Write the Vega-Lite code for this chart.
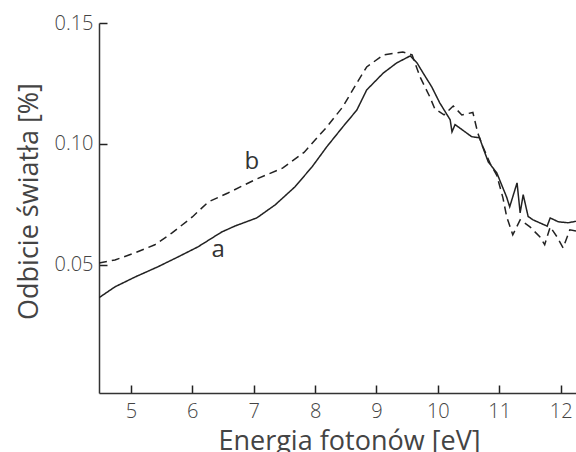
{
  "$schema": "https://vega.github.io/schema/vega-lite/v6.json",
  "autosize": {"type": "none"},
  "padding": {"left": 99, "top": 23, "right": 0, "bottom": 59},
  "width": 477,
  "height": 370,
  "background": "white",
  "config": {
    "view": {"stroke": null},
    "axis": {
      "grid": false,
      "domainColor": "#333",
      "domainWidth": 1.5,
      "tickColor": "#222",
      "tickWidth": 1.5,
      "labelFont": "Open Sans",
      "labelFontWeight": 300,
      "labelFontSize": 20,
      "labelColor": "#444",
      "titleFont": "Open Sans",
      "titleFontWeight": "normal",
      "titleFontSize": 27,
      "titleColor": "#444"
    }
  },
  "datasets": {
    "curves": [
      {"x": 4.48, "y": 0.0364, "s": "a"},
      {"x": 4.74, "y": 0.0409, "s": "a"},
      {"x": 5.07, "y": 0.045, "s": "a"},
      {"x": 5.44, "y": 0.0492, "s": "a"},
      {"x": 5.77, "y": 0.0533, "s": "a"},
      {"x": 6.09, "y": 0.0574, "s": "a"},
      {"x": 6.48, "y": 0.0636, "s": "a"},
      {"x": 6.70, "y": 0.0661, "s": "a"},
      {"x": 7.05, "y": 0.0694, "s": "a"},
      {"x": 7.35, "y": 0.0748, "s": "a"},
      {"x": 7.67, "y": 0.0822, "s": "a"},
      {"x": 7.95, "y": 0.0905, "s": "a"},
      {"x": 8.19, "y": 0.0988, "s": "a"},
      {"x": 8.45, "y": 0.107, "s": "a"},
      {"x": 8.68, "y": 0.114, "s": "a"},
      {"x": 8.84, "y": 0.1223, "s": "a"},
      {"x": 9.11, "y": 0.1293, "s": "a"},
      {"x": 9.33, "y": 0.1335, "s": "a"},
      {"x": 9.55, "y": 0.1364, "s": "a"},
      {"x": 9.66, "y": 0.1335, "s": "a"},
      {"x": 9.76, "y": 0.1293, "s": "a"},
      {"x": 9.90, "y": 0.1236, "s": "a"},
      {"x": 10.03, "y": 0.117, "s": "a"},
      {"x": 10.20, "y": 0.110, "s": "a"},
      {"x": 10.23, "y": 0.105, "s": "a"},
      {"x": 10.28, "y": 0.108, "s": "a"},
      {"x": 10.55, "y": 0.103, "s": "a"},
      {"x": 10.68, "y": 0.1025, "s": "a"},
      {"x": 10.73, "y": 0.0988, "s": "a"},
      {"x": 10.82, "y": 0.0926, "s": "a"},
      {"x": 10.96, "y": 0.088, "s": "a"},
      {"x": 11.12, "y": 0.078, "s": "a"},
      {"x": 11.17, "y": 0.074, "s": "a"},
      {"x": 11.29, "y": 0.0839, "s": "a"},
      {"x": 11.34, "y": 0.0715, "s": "a"},
      {"x": 11.39, "y": 0.079, "s": "a"},
      {"x": 11.47, "y": 0.070, "s": "a"},
      {"x": 11.55, "y": 0.0686, "s": "a"},
      {"x": 11.78, "y": 0.0660, "s": "a"},
      {"x": 11.83, "y": 0.0694, "s": "a"},
      {"x": 11.96, "y": 0.0678, "s": "a"},
      {"x": 12.12, "y": 0.0674, "s": "a"},
      {"x": 12.25, "y": 0.068, "s": "a"},
      {"x": 4.48, "y": 0.0508, "s": "b"},
      {"x": 4.74, "y": 0.052, "s": "b"},
      {"x": 5.07, "y": 0.055, "s": "b"},
      {"x": 5.39, "y": 0.0583, "s": "b"},
      {"x": 5.67, "y": 0.0632, "s": "b"},
      {"x": 6.0, "y": 0.0698, "s": "b"},
      {"x": 6.26, "y": 0.076, "s": "b"},
      {"x": 6.58, "y": 0.0797, "s": "b"},
      {"x": 7.03, "y": 0.0853, "s": "b"},
      {"x": 7.47, "y": 0.090, "s": "b"},
      {"x": 7.82, "y": 0.0965, "s": "b"},
      {"x": 8.19, "y": 0.107, "s": "b"},
      {"x": 8.45, "y": 0.1153, "s": "b"},
      {"x": 8.68, "y": 0.1252, "s": "b"},
      {"x": 8.84, "y": 0.1318, "s": "b"},
      {"x": 9.11, "y": 0.1368, "s": "b"},
      {"x": 9.43, "y": 0.138, "s": "b"},
      {"x": 9.58, "y": 0.1368, "s": "b"},
      {"x": 9.71, "y": 0.1277, "s": "b"},
      {"x": 9.87, "y": 0.1194, "s": "b"},
      {"x": 9.95, "y": 0.1145, "s": "b"},
      {"x": 10.1, "y": 0.112, "s": "b"},
      {"x": 10.25, "y": 0.1157, "s": "b"},
      {"x": 10.39, "y": 0.112, "s": "b"},
      {"x": 10.57, "y": 0.113, "s": "b"},
      {"x": 10.65, "y": 0.1045, "s": "b"},
      {"x": 10.73, "y": 0.099, "s": "b"},
      {"x": 10.85, "y": 0.092, "s": "b"},
      {"x": 10.96, "y": 0.087, "s": "b"},
      {"x": 11.06, "y": 0.0777, "s": "b"},
      {"x": 11.12, "y": 0.070, "s": "b"},
      {"x": 11.22, "y": 0.0624, "s": "b"},
      {"x": 11.34, "y": 0.0686, "s": "b"},
      {"x": 11.50, "y": 0.0657, "s": "b"},
      {"x": 11.66, "y": 0.0616, "s": "b"},
      {"x": 11.74, "y": 0.0583, "s": "b"},
      {"x": 11.83, "y": 0.0657, "s": "b"},
      {"x": 11.94, "y": 0.0616, "s": "b"},
      {"x": 12.04, "y": 0.057, "s": "b"},
      {"x": 12.15, "y": 0.0645, "s": "b"},
      {"x": 12.25, "y": 0.064, "s": "b"}
    ],
    "labels": [
      {"x": 6.42, "y": 0.0562, "t": "a"},
      {"x": 6.97, "y": 0.0925, "t": "b"}
    ]
  },
  "layer": [
    {
      "data": {"name": "curves"},
      "mark": {"type": "line", "color": "#222", "strokeWidth": 1.5, "clip": true},
      "encoding": {
        "x": {
          "field": "x",
          "type": "quantitative",
          "scale": {"domain": [4.48, 12.25], "nice": false, "zero": false},
          "axis": {
            "title": "Energia fotonów [eV]",
            "values": [5, 6, 7, 8, 9, 10, 11, 12],
            "format": "d",
            "tickSize": -8,
            "labelPadding": 16,
            "titleX": 250,
            "titleY": 56,
            "titleBaseline": "alphabetic"
          }
        },
        "y": {
          "field": "y",
          "type": "quantitative",
          "scale": {"domain": [-0.003, 0.15], "nice": false, "zero": false},
          "axis": {
            "title": "Odbicie światła [%]",
            "values": [0.05, 0.1, 0.15],
            "format": ".2f",
            "tickSize": -8,
            "labelPadding": 14,
            "titleX": -62,
            "titleY": 178,
            "titleBaseline": "alphabetic"
          }
        },
        "strokeDash": {
          "field": "s",
          "type": "nominal",
          "scale": {"domain": ["a", "b"], "range": [[1, 0], [8, 5]]},
          "legend": null
        }
      }
    },
    {
      "mark": {"type": "rule", "color": "#333", "strokeWidth": 1.5},
      "encoding": {"y": {"datum": 0.15}}
    },
    {
      "data": {"name": "labels"},
      "mark": {"type": "text", "font": "Open Sans", "fontSize": 24, "color": "#333", "baseline": "middle", "align": "center"},
      "encoding": {
        "x": {"field": "x", "type": "quantitative"},
        "y": {"field": "y", "type": "quantitative"},
        "text": {"field": "t"}
      }
    }
  ]
}
